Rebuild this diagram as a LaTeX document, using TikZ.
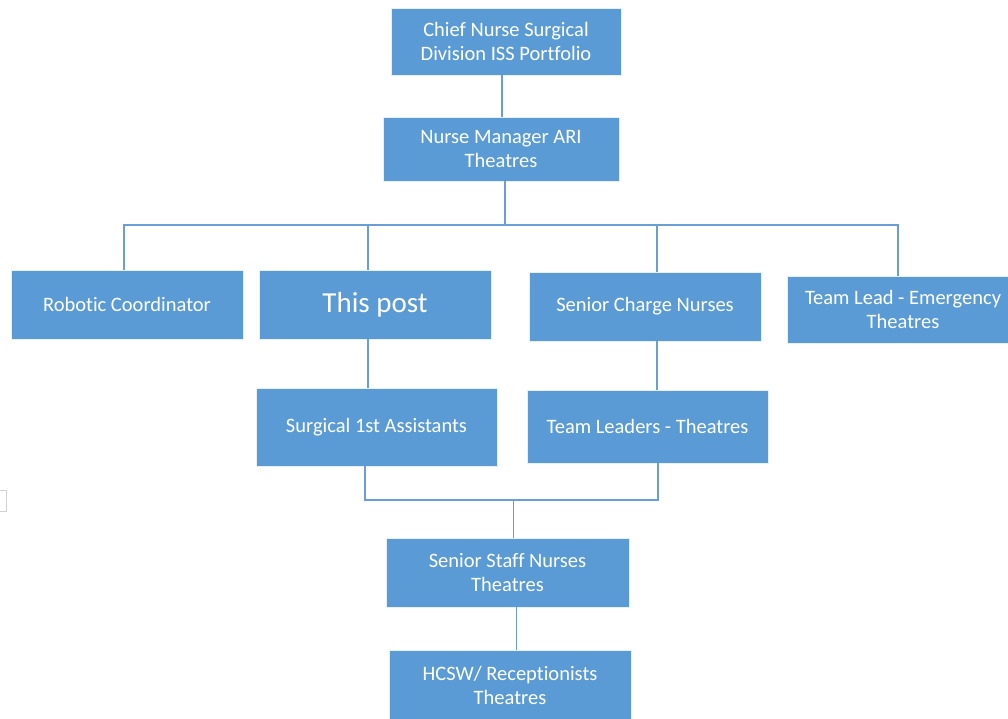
\documentclass[tikz,border=0pt]{standalone}
\usepackage{fontspec}
\setmainfont{Carlito}[Ligatures=NoCommon]
\definecolor{boxblue}{HTML}{5B9BD5}
\definecolor{linkblue}{HTML}{6A9FD6}
\begin{document}
\begin{tikzpicture}[x=1pt,y=-1pt,
  box/.style={fill=boxblue, draw=white!85!boxblue, line width=0.6pt, text=white,
    align=center, inner sep=0pt, font=\fontsize{20.5}{24}\selectfont},
  conn/.style={draw=linkblue, line width=1.4pt}]
\useasboundingbox[fill=white] (0,0) rectangle (1008,718);

% leadership
\node[box, minimum width=230pt, minimum height=67pt] (chief) at (506,41.5)
  {Chief Nurse Surgical\\Division ISS Portfolio};
\node[box, minimum width=236pt, minimum height=64pt] (nm) at (501,149)
  {Nurse Manager ARI\\Theatres};

% second tier
\node[box, minimum width=232pt, minimum height=69pt] (robot) at (127,304.5)
  {Robotic Coordinator};
\node[box, minimum width=232pt, minimum height=69pt,
  font=\fontsize{29}{32}\selectfont] (post) at (375,304.5) {This post};
\node[box, minimum width=232pt, minimum height=69pt] (scn) at (645,306.5)
  {\raisebox{-2pt}{Senior Charge Nurses}};
\node[box, minimum width=232pt, minimum height=67pt] (tle) at (903,309.5)
  {Team Lead - Emergency\\Theatres};

% third tier
\node[box, minimum width=241pt, minimum height=78pt] (sfa) at (376.5,427)
  {Surgical 1st Assistants};
\node[box, minimum width=241pt, minimum height=73pt] (tlt) at (647.5,426.5)
  {Team Leaders - Theatres};

% staff
\node[box, minimum width=243pt, minimum height=69pt] (ssn) at (507.5,572.5)
  {Senior Staff Nurses\\Theatres};
\node[box, minimum width=242pt, minimum height=70pt] (hcsw) at (510,685)
  {HCSW/ Receptionists\\Theatres};

% stray frame at the left edge
\draw[gray!35, line width=1pt] (-6,490) rectangle (6,511);

% junction points
\coordinate (busL) at (124,224);
\coordinate (busR) at (898,225);
\coordinate (lowL) at (365,500);
\coordinate (lowR) at (658,500);

% connectors
\draw[conn] ([xshift=-4pt]chief.south) -- ([xshift=-4pt]chief.south |- nm.north);
\draw[conn] ([xshift=4pt]nm.south) -- ([xshift=4pt]nm.south |- busL);
\draw[conn] (robot.north -| busL) |- (busR) -- (tle.north -| busR);
\draw[conn] ([xshift=-7pt]post.north) -- ([xshift=-7pt]post.north |- busL);
\draw[conn] ([xshift=12pt]scn.north) -- ([xshift=12pt]scn.north |- busL);
\draw[conn] ([xshift=-7pt]post.south) -- ([xshift=-7pt]post.south |- sfa.north);
\draw[conn] ([xshift=12pt]scn.south) -- ([xshift=12pt]scn.south |- tlt.north);
\draw[conn] (sfa.south -| lowL) |- (lowR) -- (tlt.south -| lowR);
\draw[conn] ([xshift=6pt]ssn.north |- lowL) -- ([xshift=6pt]ssn.north);
\draw[conn] ([xshift=9pt]ssn.south) -- ([xshift=9pt]ssn.south |- hcsw.north);
\end{tikzpicture}
\end{document}
